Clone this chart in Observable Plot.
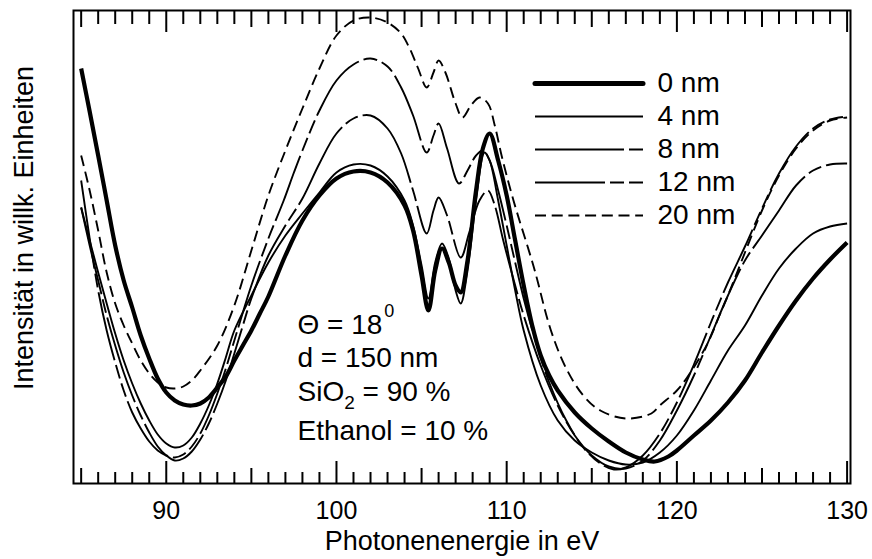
<!DOCTYPE html>
<html><head><meta charset="utf-8">
<script src="https://cdn.jsdelivr.net/npm/d3@7"></script>
<script src="https://cdn.jsdelivr.net/npm/@observablehq/plot@0.6"></script>
<style>body{margin:0;background:#fff}</style>
</head><body><div id="chart"></div>
<script>
// ---- data (photon energy in eV, intensity in arbitrary units) ----
const seriesNames = ["0 nm", "4 nm", "8 nm", "12 nm", "20 nm"];

const s0nm = [[85,415],[85.5,372],[86,328],[86.5,283],[87,238],[87.5,203],[88,176],[88.5,148],[89,125],[89.5,105],[90,91],[90.5,83],[91,79],[91.5,78],[92,80],[92.5,86],[93,96],[93.5,107],[94,123],[94.5,138],[95,153],[95.5,170],[96,187],[97,228],[98,263],[99,288],[100,305],[101,312],[102,311],[103,301],[104,278],[104.5,253],[105,208],[105.4,173],[105.8,213],[106.2,235],[106.6,221],[107,198],[107.3,191],[107.7,223],[108.2,293],[108.6,335],[109,350],[109.5,323],[110,288],[110.5,243],[111,198],[111.5,158],[112,128],[112.5,108],[113,93],[114,71],[115,55],[116,42],[117,31],[118,24],[118.7,22],[119.5,27],[120,33],[121,48],[122,63],[123,81],[124,103],[125,131],[126,158],[127,183],[128,205],[129,224],[130,241]];

const s4nm = [[85,276],[85.5,243],[86,211],[86.5,180],[87,150],[87.5,123],[88,100],[88.5,80],[89,63],[89.5,49],[90,40],[90.5,36],[91,38],[91.5,46],[92,60],[92.5,78],[93,100],[93.5,126],[94,153],[95,188],[96,221],[97,248],[98,270],[99,291],[100,311],[101,319],[102,318],[103,307],[104,283],[104.5,258],[105,218],[105.4,185],[105.8,221],[106.2,240],[106.6,225],[107,193],[107.3,180],[107.7,213],[108.2,283],[108.7,331],[109,323],[109.5,283],[110,238],[110.5,193],[111,153],[112,98],[113,63],[114,43],[115,31],[116,23],[117,19],[118,21],[119,31],[120,48],[121,73],[122,103],[123,133],[124,158],[125,188],[126,215],[127,235],[128,250],[129,257],[130,260]];

const s8nm = [[85,276],[85.5,238],[86,203],[86.5,168],[87,138],[87.5,111],[88,88],[88.5,68],[89,51],[89.5,37],[90,28],[90.5,23],[91,25],[91.5,32],[92,44],[92.5,60],[93,80],[93.5,103],[94,130],[94.5,158],[95,185],[96,228],[97,258],[98,285],[99,320],[100,350],[101,365],[102,368],[103,355],[103.8,330],[104.5,293],[105.3,250],[105.7,273],[106,286],[106.5,268],[107.3,226],[107.8,251],[108.4,283],[108.9,293],[109.3,278],[109.8,243],[110.5,198],[111,168],[112,118],[113,78],[114,48],[115,28],[116,17],[117,15],[118,23],[119,43],[120,73],[121,108],[122,148],[123,188],[124,223],[125,248],[126,273],[127,298],[128,313],[129,319],[130,320]];

const s12nm = [[85,303],[85.5,245],[86,193],[86.5,153],[87,121],[87.5,93],[88,71],[88.5,55],[89,42],[89.5,33],[90,28],[90.5,26],[91,29],[91.5,37],[92,50],[92.5,68],[93,90],[93.5,115],[94,143],[94.5,171],[95,198],[96,245],[96.9,283],[97.5,311],[98,333],[99,373],[100,403],[101,419],[102,425],[103,417],[103.8,396],[104.5,368],[105.3,331],[105.7,348],[106,360],[106.5,335],[107.2,300],[107.7,313],[108.2,328],[108.6,333],[109,323],[109.5,293],[110,258],[110.5,221],[111,185],[111.6,148],[112.5,101],[113.5,63],[114.5,36],[115.5,20],[116.3,14],[117,16],[118,28],[119,50],[120,81],[121,119],[122,161],[123,201],[124,237],[125,275],[126,310],[127,337],[128,355],[129,364],[130,367]];

const s20nm = [[85,328],[85.5,293],[86,253],[86.5,211],[87,180],[87.5,158],[88,140],[88.5,123],[89,110],[89.5,101],[90,96],[90.5,95],[91,97],[91.5,103],[92,113],[93,138],[94,178],[95,233],[96,288],[97,333],[98,375],[99,415],[100,448],[101,463],[102,466],[103,461],[103.8,450],[104.3,435],[104.8,415],[105.3,396],[105.7,411],[106,423],[106.4,411],[107,380],[107.4,366],[107.9,378],[108.4,386],[108.9,380],[109.3,358],[109.7,328],[110.4,283],[111.6,216],[112.6,153],[113.5,115],[114.5,88],[115.5,73],[117,65],[118.5,70],[119,78],[120,93],[120.6,106],[121.8,140],[122.5,168],[123,188],[124,231],[125,273],[126,308],[127,335],[128,353],[129,363],[130,366]];

const series = [s0nm, s4nm, s8nm, s12nm, s20nm];
const xTickLabels = [90, 100, 110, 120, 130];
const tickPositions = d3.range(85, 131);
const xLabel = "Photonenenergie in eV";
const yLabel = "Intensität in willk. Einheiten";
const annotation = ["Θ = 18", "d = 150 nm", "SiO2 = 90 %", "Ethanol = 10 %"];

// ---- styles ----
const lineStyles = [
  {strokeWidth: 4.2, dash: null},
  {strokeWidth: 1.9, dash: null},
  {strokeWidth: 1.9, dash: "89,5,14,5"},
  {strokeWidth: 1.9, dash: "70,5,14,5,14,5"},
  {strokeWidth: 1.9, dash: "11,5.7"}
];
const xDomain = [84.55, 130.2];
const yDomain = [0, 473];
const yTop = yDomain[1];
const pxPerEv = (850 - 73) / (xDomain[1] - xDomain[0]);
const evAt = px => xDomain[0] + (px - 73) / pxPerEv;
const legX1 = evAt(535), legX2 = evAt(643);
const legY = i => (483 - 83) - 33 * i;
const tickLenBottom = d => d % 10 === 0 ? 22 : d % 5 === 0 ? 15 : 11;
const tickLenTop = d => d % 10 === 0 ? 22 : d % 5 === 0 ? 17 : 14;
const font = "'Liberation Sans', Arial, Helvetica, sans-serif";

const marks = [
  Plot.frame({stroke: "black", strokeWidth: 2}),
  Plot.ruleX(tickPositions, {x: d => d, y1: 0, y2: d => tickLenBottom(d), stroke: "black", strokeWidth: 2}),
  Plot.ruleX(tickPositions, {x: d => d, y1: yTop, y2: d => yTop - tickLenTop(d), stroke: "black", strokeWidth: 2}),
  Plot.axisX({ticks: xTickLabels, tickSize: 0, tickPadding: 18, fontSize: 25, label: null, tickFormat: d => String(d)}),
  Plot.text([xLabel], {frameAnchor: "bottom", dy: 58, lineAnchor: "middle", textAnchor: "middle", fontSize: 27, fill: "black"}),
  Plot.text([yLabel], {frameAnchor: "left", dx: -49, dy: -19, rotate: -90, textAnchor: "middle", lineAnchor: "middle", fontSize: 27, fill: "black"})
];

series.forEach((s, i) => {
  marks.push(Plot.line(s, {x: d => d[0], y: d => d[1], curve: "catmull-rom", stroke: "black",
    strokeWidth: lineStyles[i].strokeWidth, strokeDasharray: lineStyles[i].dash, strokeLinecap: "butt"}));
  marks.push(Plot.ruleY([legY(i)], {y: d => d, x1: legX1, x2: legX2, stroke: "black",
    strokeWidth: i === 0 ? 5 : 2, strokeDasharray: lineStyles[i].dash, strokeLinecap: i === 0 ? "round" : "butt"}));
});
marks.push(Plot.text(seriesNames, {x: legX2, y: (d, i) => legY(i), dx: 14, textAnchor: "start", fontSize: 28, fill: "black"}));

const baselines = [333, 366, 400, 439];
annotation.forEach((t, i) => {
  marks.push(Plot.text([t], {frameAnchor: "top-left", dx: 224, dy: baselines[i] - 10, lineAnchor: "bottom",
    textAnchor: "start", fontSize: 28, fill: "black"}));
});

const chart = Plot.plot({
  width: 872, height: 559,
  marginLeft: 73, marginRight: 22, marginTop: 10, marginBottom: 76,
  x: {domain: xDomain},
  y: {domain: yDomain, axis: null},
  style: {fontFamily: font, background: "white", color: "black"},
  marks
});
document.getElementById("chart").appendChild(chart);

// superscript / subscript in the annotation
d3.select(chart).selectAll("text").each(function() {
  const el = d3.select(this);
  const t = this.textContent;
  if (t === "Θ = 18") {
    el.append("tspan").attr("dy", -17).attr("dx", 2).attr("font-size", 18).text("0");
  } else if (t === "SiO2 = 90 %") {
    this.textContent = "";
    el.append("tspan").text("SiO");
    el.append("tspan").attr("dy", 8).attr("font-size", 19).text("2");
    el.append("tspan").attr("dy", -8).text(" = 90 %");
  }
});
</script>
</body></html>
